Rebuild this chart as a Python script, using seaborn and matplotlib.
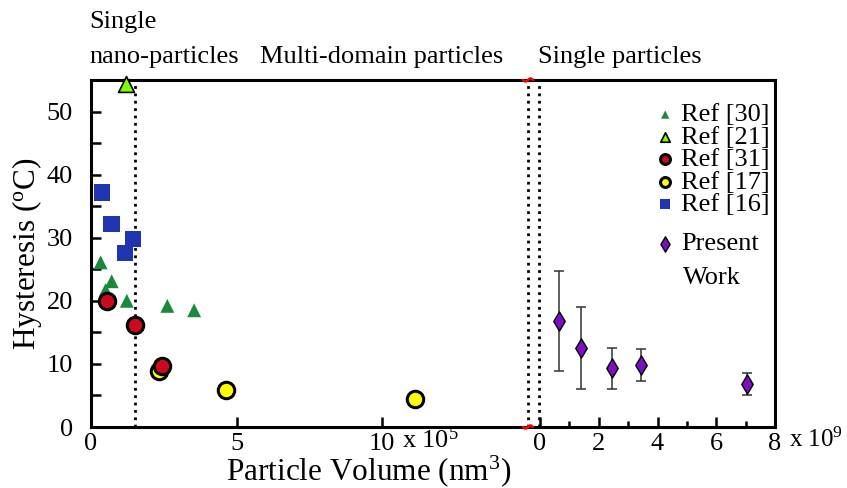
import numpy as np
import pandas as pd
import seaborn as sns
import matplotlib
matplotlib.use("Agg")
import matplotlib.pyplot as plt
from matplotlib.ticker import MultipleLocator
from matplotlib.lines import Line2D

# ---------------- data (left panel: x in 1e5 nm^3, right panel: x in 1e9 nm^3)
ref30_x = [0.33, 0.50, 0.71, 1.23, 2.62, 3.54]
ref30_y = [26.1, 21.7, 23.1, 20.0, 19.2, 18.5]
ref21_x = [1.20]
ref21_y = [54.3]
ref31_x = [0.56, 1.51, 2.45]
ref31_y = [19.9, 16.2, 9.7]
ref17_x = [2.34, 4.63, 11.13]
ref17_y = [8.8, 5.8, 4.4]
ref16_x = [0.37, 0.71, 1.45, 1.17]
ref16_y = [37.2, 32.2, 29.8, 27.6]
present_x = [0.66, 1.40, 2.46, 3.44, 7.04]
present_y = [16.8, 12.5, 9.3, 9.8, 6.8]
present_err = [8.0, 6.45, 3.3, 2.5, 1.75]

left_xticks = [0, 5, 10]
right_xticks = [0, 2, 4, 6, 8]
yticks = [0, 10, 20, 30, 40, 50]

sns.set_theme(style="white")
plt.rcParams['font.family'] = ['Liberation Serif', 'DejaVu Serif']
plt.rcParams['mathtext.fontset'] = 'custom'
plt.rcParams['mathtext.rm'] = 'Liberation Serif'
plt.rcParams['mathtext.it'] = 'Liberation Serif:italic'
for k in ('text.color', 'axes.labelcolor', 'xtick.color', 'ytick.color'):
    plt.rcParams[k] = 'black'

FS = 19
W, H = 847, 488
fig = plt.figure(figsize=(W / 100, H / 100), dpi=100)
x0, xb, x1 = 91, 528, 775
yb, yt = 427, 80
lax = fig.add_axes([x0 / W, (H - yb) / H, (xb - x0) / W, (yb - yt) / H])
rax = fig.add_axes([xb / W, (H - yb) / H, (x1 - xb) / W, (yb - yt) / H])
rax.patch.set_visible(False)

for ax in (lax, rax):
    ax.set_ylim(0, 55)
    for s in ax.spines.values():
        s.set_color('black')
        s.set_linewidth(2.2)

lax.set_xlim(0, 15)
rax.set_xlim(-0.41, 8)

# left panel series
sns.scatterplot(x=ref30_x, y=ref30_y, ax=lax, marker='^', s=100, color='#1a8a3a',
                edgecolor='none', label='Ref [30]', zorder=4)
sns.scatterplot(x=ref21_x, y=ref21_y, ax=lax, marker='^', s=130, color='#80ff00',
                edgecolor='black', linewidth=1.2, label='Ref [21]', zorder=5, clip_on=False)
sns.scatterplot(x=ref31_x, y=ref31_y, ax=lax, marker='o', s=140, color='#cc0a1e',
                edgecolor='black', linewidth=2.2, label='Ref [31]', zorder=5)
sns.scatterplot(x=ref17_x, y=ref17_y, ax=lax, marker='o', s=140, color='#ffff00',
                edgecolor='black', linewidth=2.2, label='Ref [17]', zorder=4)
sns.scatterplot(x=ref16_x, y=ref16_y, ax=lax, marker='s', s=140, color='#1f35b0',
                edgecolor='none', label='Ref [16]', zorder=4)

# right panel
rax.errorbar(present_x, present_y, yerr=present_err, fmt='none', ecolor='#333333',
             elinewidth=1.1, capsize=3.5, capthick=1.1, zorder=3)
sns.scatterplot(x=present_x, y=present_y, ax=rax, marker='d', s=95, color='#7a0fc4',
                edgecolor='black', linewidth=1.0, label='Present', zorder=5)

# dotted boundaries
lax.axvline(1.5, color='black', ls=':', lw=2, zorder=2)
lax.spines['right'].set_visible(False)
lax.axvline(15, color='black', ls=':', lw=2, zorder=2, clip_on=False)
rax.spines['left'].set_visible(False)
rax.axvline(-0.04, color='black', ls=':', lw=2, zorder=2)

# ticks
lax.set_xticks(left_xticks)
lax.set_yticks(yticks)
lax.yaxis.set_minor_locator(MultipleLocator(5))
lax.tick_params(axis='x', which='major', direction='in', length=7, width=1.8,
                labelsize=FS, colors='black', bottom=True, pad=4)
lax.tick_params(axis='y', which='major', direction='in', length=7, width=1.8,
                labelsize=FS, colors='black', left=True, pad=13)
lax.tick_params(axis='y', which='minor', direction='in', length=7, width=1.8, left=True)

rax.set_xticks(right_xticks)
rax.xaxis.set_minor_locator(MultipleLocator(1))
rax.set_yticks([])
rax.tick_params(axis='x', which='major', direction='in', length=7, width=1.8,
                labelsize=FS, colors='black', bottom=True, pad=4)
rax.tick_params(axis='x', which='minor', direction='in', length=4, width=1.8, bottom=True)

lax.set_xlabel('')
rax.set_xlabel('')
lax.set_ylabel(r'Hysteresis ($^{\mathrm{o}}$C)', fontsize=22.5, labelpad=2, color='black')
rax.set_ylabel('')

# legend combining everything
h1, l1 = lax.get_legend_handles_labels()
h2, l2 = rax.get_legend_handles_labels()
lax.get_legend().remove()
rax.get_legend().remove()
leg_x = (652 - xb) / (x1 - xb)
leg1 = rax.legend(h1, l1, loc='upper left', bbox_to_anchor=(leg_x, (yb - 103) / (yb - yt)),
                  frameon=False, fontsize=FS, markerscale=0.6, handletextpad=0.1,
                  labelspacing=-0.04, handlelength=1.0, borderaxespad=0, borderpad=0,
                  labelcolor='black')
rax.add_artist(leg1)
leg2 = rax.legend(h2, l2, loc='upper left', bbox_to_anchor=(leg_x, (yb - 232) / (yb - yt)),
                  frameon=False, fontsize=FS, markerscale=0.8, handletextpad=0.1,
                  handlelength=1.0, borderaxespad=0, borderpad=0, labelcolor='black')
fig.text(683 / W, 1 - 278 / H, 'Work', fontsize=FS, ha='left', va='center')

# texts
fig.text(369 / W, 1 - 471 / H, r'Particle Volume (nm$^3$)', fontsize=22.5,
         ha='center', va='center')
fig.text(402 / W, 1 - 440 / H, r'x 10$^5$', fontsize=FS, ha='left', va='center')
fig.text(789 / W, 1 - 440 / H, r'x 10$^9$', fontsize=18, ha='left', va='center')
fig.text(89 / W, 1 - 22 / H, 'Single', fontsize=FS, ha='left', va='center')
fig.text(89 / W, 1 - 57 / H, 'nano-particles', fontsize=FS, ha='left', va='center')
fig.text(260 / W, 1 - 57 / H, 'Multi-domain particles', fontsize=FS, ha='left', va='center')
fig.text(538 / W, 1 - 57 / H, 'Single particles', fontsize=FS, ha='left', va='center')

# red break marks (small tilde curves)
t = np.linspace(0, 1, 30)
for yy in (yt, yb):
    xs = (xb - 5 + 10 * t) / W
    ys = 1 - (yy + 1.5 * np.sin(2 * np.pi * t)) / H
    fig.add_artist(Line2D(xs, ys, color='red', lw=1.8, transform=fig.transFigure, zorder=10))

fig.savefig('out.png', dpi=100)
